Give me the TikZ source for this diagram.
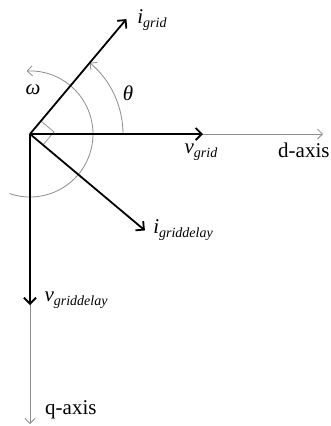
\documentclass[tikz,border=0pt]{standalone}
\usepackage{fontspec}
\setmainfont{Liberation Serif}
\usetikzlibrary{arrows.meta,calc}
\definecolor{axisgray}{RGB}{140,140,140}
\definecolor{markgray}{RGB}{150,150,150}
\newcommand{\lbl}[2]{\textit{#1}\raisebox{-0.35ex}{\fontsize{14}{14}\selectfont\textit{#2}}}
\begin{document}
\begin{tikzpicture}[x=1pt,y=-1pt,
  vec/.style={line width=1.8pt,black,-{Straight Barb[length=6pt,width=12pt,line width=1.8pt]}},
  axisline/.style={line width=0.8pt,axisgray,-{Straight Barb[length=5pt,width=10pt,line width=0.8pt]}},
  arcline/.style={line width=0.8pt,axisgray},
  marker/.style={line width=0.8pt,markgray},
  txt/.style={font=\fontsize{21}{21}\selectfont,inner sep=0pt}]
\useasboundingbox (0,0) rectangle (331,426);
\coordinate (O) at (30,134);
\coordinate (dend) at (323,134);
\coordinate (qend) at (30,424);
\coordinate (vg) at (203,134);
\coordinate (vgd) at (30,305);
\coordinate (ig) at ($(O)+(-50:150)$);
\coordinate (igd) at ($(O)+(40:150)$);
% axes
\draw[axisline] (O) -- (dend);
\draw[axisline] (O) -- (qend);
% arcs
\draw[arcline,-{Straight Barb[length=5pt,width=10pt,line width=0.8pt]}] ($(O)+(0:93)$) arc[start angle=0,end angle=-50,radius=93];
\draw[arcline,-{Straight Barb[length=5pt,width=10pt,line width=0.8pt]}] ($(O)+(109:63)$) arc[start angle=109,end angle=-93,radius=63];
% right angle mark
\draw[marker] ($(O)+(-50:17)$) -- ($(O)+(-5:24.04)$) -- ($(O)+(40:17)$);
% vectors
\draw[vec] (O) -- (ig);
\draw[vec] (O) -- (igd);
\draw[vec] (O) -- (vg);
\draw[vec] (O) -- (vgd);
% labels
\node[txt] (lig) at (152,20) {\lbl{i}{grid}};
\node[txt] (lvg) at (201,152) {\lbl{v}{grid}};
\node[txt] (ligd) at (183,230) {\lbl{i}{griddelay}};
\node[txt] (lvgd) at (76,300) {\lbl{v}{griddelay}};
\node[txt,anchor=west] (ld) at (278,150) {d-axis};
\node[txt,anchor=west] (lq) at (45,410) {q-axis};
\node[txt] (lth) at (128,93) {\textit{θ}};
\node[txt] (lom) at (33,90) {\textit{ω}};
\end{tikzpicture}
\end{document}
